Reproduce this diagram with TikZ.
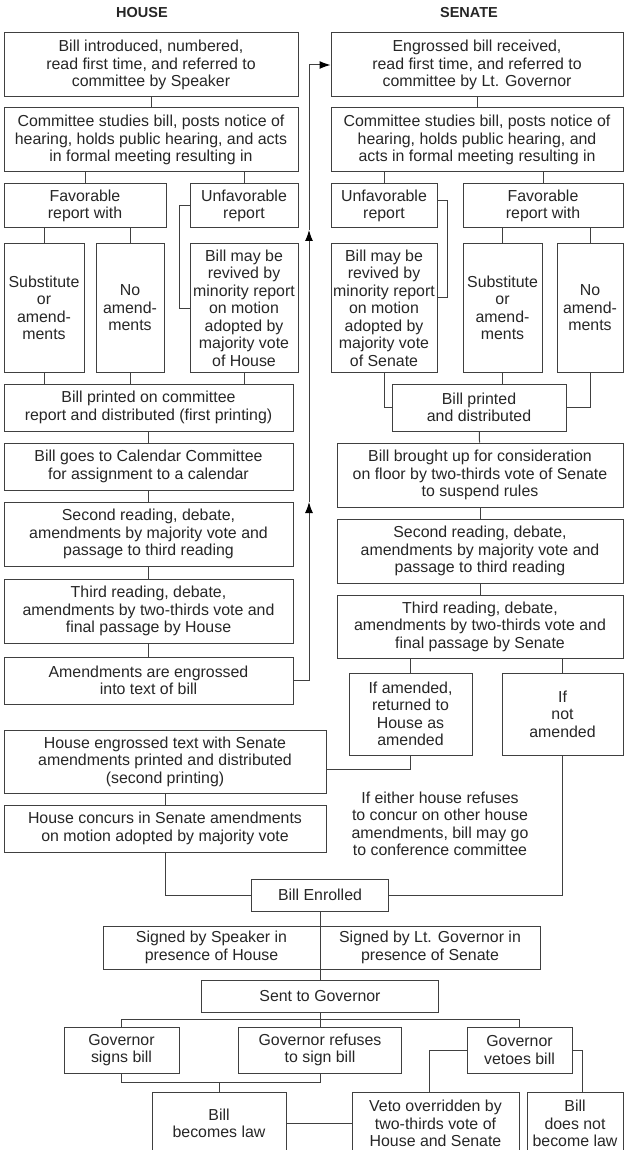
\documentclass[tikz,border=0pt]{standalone}
\usepackage{fontspec}
\setmainfont{Liberation Sans}
\usetikzlibrary{arrows.meta}
\tikzset{font=\fontsize{15.9}{17.5}\selectfont}
\tikzset{box/.style={draw=black!75, line width=1pt, align=center, inner sep=2pt, text=black!85}}
\tikzset{link/.style={draw=black!75, line width=1pt}}
\tikzset{uparrow/.style={link, -{Latex[length=11pt,width=8pt,color=black]}}}
\tikzset{title/.style={font=\fontsize{14.5}{17}\selectfont\bfseries, text=black!85}}

\begin{document}
\begin{tikzpicture}[x=1pt,y=-1pt]
\useasboundingbox (0,0) rectangle (628,1150);
\clip (0,0) rectangle (628,1150);
\node[title] (house) at (142,13) {HOUSE};
\node[title] (senate) at (469,13) {SENATE};

\node[box, minimum width=294pt, minimum height=64pt] (hintro) at (151,65) {Bill introduced, numbered,\\read first time, and referred to\\committee by Speaker};
\node[box, minimum width=294pt, minimum height=64pt] (hcomm) at (151,140) {Committee studies bill, posts notice of\\hearing, holds public hearing, and acts\\in formal meeting resulting in};
\node[box, minimum width=162pt, minimum height=44pt] (hfav) at (85,206) {Favorable\\report with};
\node[box, minimum width=108pt, minimum height=44pt] (hunfav) at (244,206) {Unfavorable\\report};
\node[box, minimum width=80pt, minimum height=128pt] (hsub) at (44,308) {Substitute\\or\\amend-\\ments};
\node[box, minimum width=68pt, minimum height=128pt] (hnoam) at (130,308) {No\\amend-\\ments};
\node[box, minimum width=108pt, minimum height=128pt] (hrev) at (244,308) {Bill may be\\revived by\\minority report\\on motion\\adopted by\\majority vote\\of House};
\node[box, minimum width=289pt, minimum height=47pt] (hprint) at (148.5,407.5) {Bill printed on committee\\report and distributed (first printing)};
\node[box, minimum width=289pt, minimum height=47pt] (hcal) at (148.5,466.5) {Bill goes to Calendar Committee\\for assignment to a calendar};
\node[box, minimum width=289pt, minimum height=64pt] (hsecond) at (148.5,534) {Second reading, debate,\\amendments by majority vote and\\passage to third reading};
\node[box, minimum width=289pt, minimum height=64pt] (hthird) at (148.5,611) {Third reading, debate,\\amendments by two-thirds vote and\\final passage by House};
\node[box, minimum width=289pt, minimum height=47pt] (hengr) at (148.5,680.5) {Amendments are engrossed\\into text of bill};

\node[box, minimum width=292pt, minimum height=64pt] (sintro) at (477,65) {Engrossed bill received,\\read first time, and referred to\\committee by Lt. Governor};
\node[box, minimum width=292pt, minimum height=64pt] (scomm) at (477,140) {Committee studies bill, posts notice of\\hearing, holds public hearing, and\\acts in formal meeting resulting in};
\node[box, minimum width=106pt, minimum height=44pt] (sunfav) at (384,206) {Unfavorable\\report};
\node[box, minimum width=160pt, minimum height=44pt] (sfav) at (543,206) {Favorable\\report with};
\node[box, minimum width=106pt, minimum height=128pt] (srev) at (384,308) {Bill may be\\revived by\\minority report\\on motion\\adopted by\\majority vote\\of Senate};
\node[box, minimum width=79pt, minimum height=128pt] (ssub) at (502.5,308) {Substitute\\or\\amend-\\ments};
\node[box, minimum width=66pt, minimum height=128pt] (snoam) at (590,308) {No\\amend-\\ments};
\node[box, minimum width=174pt, minimum height=47pt] (sprint) at (479,407.5) {Bill printed\\and distributed};
\node[box, minimum width=286pt, minimum height=64pt] (sfloor) at (480,475) {Bill brought up for consideration\\on floor by two-thirds vote of Senate\\to suspend rules};
\node[box, minimum width=286pt, minimum height=64pt] (ssecond) at (480,551) {Second reading, debate,\\amendments by majority vote and\\passage to third reading};
\node[box, minimum width=286pt, minimum height=63pt] (sthird) at (480,626.5) {Third reading, debate,\\amendments by two-thirds vote and\\final passage by Senate};
\node[box, minimum width=123pt, minimum height=82pt] (samend) at (410.5,714) {If amended,\\returned to\\House as\\amended};
\node[box, minimum width=121pt, minimum height=82pt] (snotam) at (562.5,714) {If\\not\\amended};

\node[box, minimum width=322pt, minimum height=63pt] (hengtext) at (165,761.5) {House engrossed text with Senate\\amendments printed and distributed\\(second printing)};
\node[box, minimum width=322pt, minimum height=47pt] (hconcur) at (165,828.5) {House concurs in Senate amendments\\on motion adopted by majority vote};
\node[align=center, text=black!85] (note) at (440,824) {If either house refuses\\to concur on other house\\amendments, bill may go\\to conference committee};
\node[box, minimum width=137pt, minimum height=32pt] (enrolled) at (320,895) {Bill Enrolled};
\node[box, minimum width=217pt, minimum height=43pt] (speaker) at (211.5,947.5) {Signed by Speaker in\\presence of House};
\node[box, minimum width=220pt, minimum height=43pt] (ltgov) at (430,947.5) {Signed by Lt. Governor in\\presence of Senate};
\node[box, minimum width=237pt, minimum height=32pt] (sent) at (320,996) {Sent to Governor};
\node[box, minimum width=115pt, minimum height=46pt] (gsigns) at (121.5,1050) {Governor\\signs bill};
\node[box, minimum width=163pt, minimum height=46pt] (grefuse) at (320,1050) {Governor refuses\\to sign bill};
\node[box, minimum width=105pt, minimum height=46pt] (gveto) at (519.5,1050) {Governor\\vetoes bill};
\node[box, minimum width=134pt, minimum height=63pt] (law) at (219,1123.5) {Bill\\becomes law};
\node[box, minimum width=167pt, minimum height=63pt] (override) at (435.5,1123.5) {Veto overridden by\\two-thirds vote of\\House and Senate};
\node[box, minimum width=96pt, minimum height=63pt] (notlaw) at (575,1123.5) {Bill\\does not\\become law};

\coordinate (up1) at (309,502);
\coordinate (up2) at (309,230);
\coordinate (split) at (320,1019);
\coordinate (join) at (219,1082);

\draw[link] (hintro) -- (hcomm);
\draw[link] (hfav.north) -- (hfav.north |- hcomm.south);
\draw[link] (hunfav.north) -- (hunfav.north |- hcomm.south);
\draw[link] (hsub.north) -- (hsub.north |- hfav.south);
\draw[link] (hnoam.north) -- (hnoam.north |- hfav.south);
\draw[link] (hunfav.west) -- ++(-10,0) |- (hrev.west);
\draw[link] (hsub.south) -- (hsub.south |- hprint.north);
\draw[link] (hnoam.south) -- (hnoam.south |- hprint.north);
\draw[link] (hrev.south) -- (hrev.south |- hprint.north);
\draw[link] (hprint) -- (hcal);
\draw[link] (hcal) -- (hsecond);
\draw[link] (hsecond) -- (hthird);
\draw[link] (hthird) -- (hengr);
\draw[uparrow] (hengr.east) -| (up1);
\draw[uparrow] (up1) -- (up2);
\draw[uparrow] (up2) |- (sintro.west);

\draw[link] (sintro) -- (scomm);
\draw[link] (sunfav.north) -- (sunfav.north |- scomm.south);
\draw[link] (sfav.north) -- (sfav.north |- scomm.south);
\draw[link] (ssub.north) -- (ssub.north |- sfav.south);
\draw[link] (snoam.north) -- (snoam.north |- sfav.south);
\draw[link] ([yshift=5pt]sunfav.east) -- ++(10,0) |- ([yshift=11pt]srev.east);
\draw[link] (srev.south) |- (sprint.west);
\draw[link] (ssub.south) -- (ssub.south |- sprint.north);
\draw[link] (snoam.south) |- (sprint.east);
\draw[link] (sprint) -- (sfloor);
\draw[link] (sfloor) -- (ssecond);
\draw[link] (ssecond) -- (sthird);
\draw[link] (samend.north) -- (samend.north |- sthird.south);
\draw[link] (snotam.north) -- (snotam.north |- sthird.south);

\draw[link] (samend.south) |- ([yshift=-8pt]hengtext.east);
\draw[link] (hengtext.south -| hconcur.north) -- (hconcur.north);
\draw[link] (hconcur.south) |- (enrolled.west);
\draw[link] (snotam.south) |- (enrolled.east);
\draw[link] (enrolled) -- (sent);
\draw[link] (sent.south) -- (split);
\draw[link] (gsigns.north) |- (split) -| (gveto.north);
\draw[link] (split) -- (grefuse.north);
\draw[link] (gsigns.south) |- (grefuse.south |- join) -- (grefuse.south);
\draw[link] (join) -- (law.north);
\draw[link] (gveto.west) -| ([xshift=-6pt]override.north);
\draw[link] (gveto.east) -| ([xshift=7pt]notlaw.north);
\draw[link] (override.west) -- (override.west -| law.east);
\end{tikzpicture}
\end{document}
